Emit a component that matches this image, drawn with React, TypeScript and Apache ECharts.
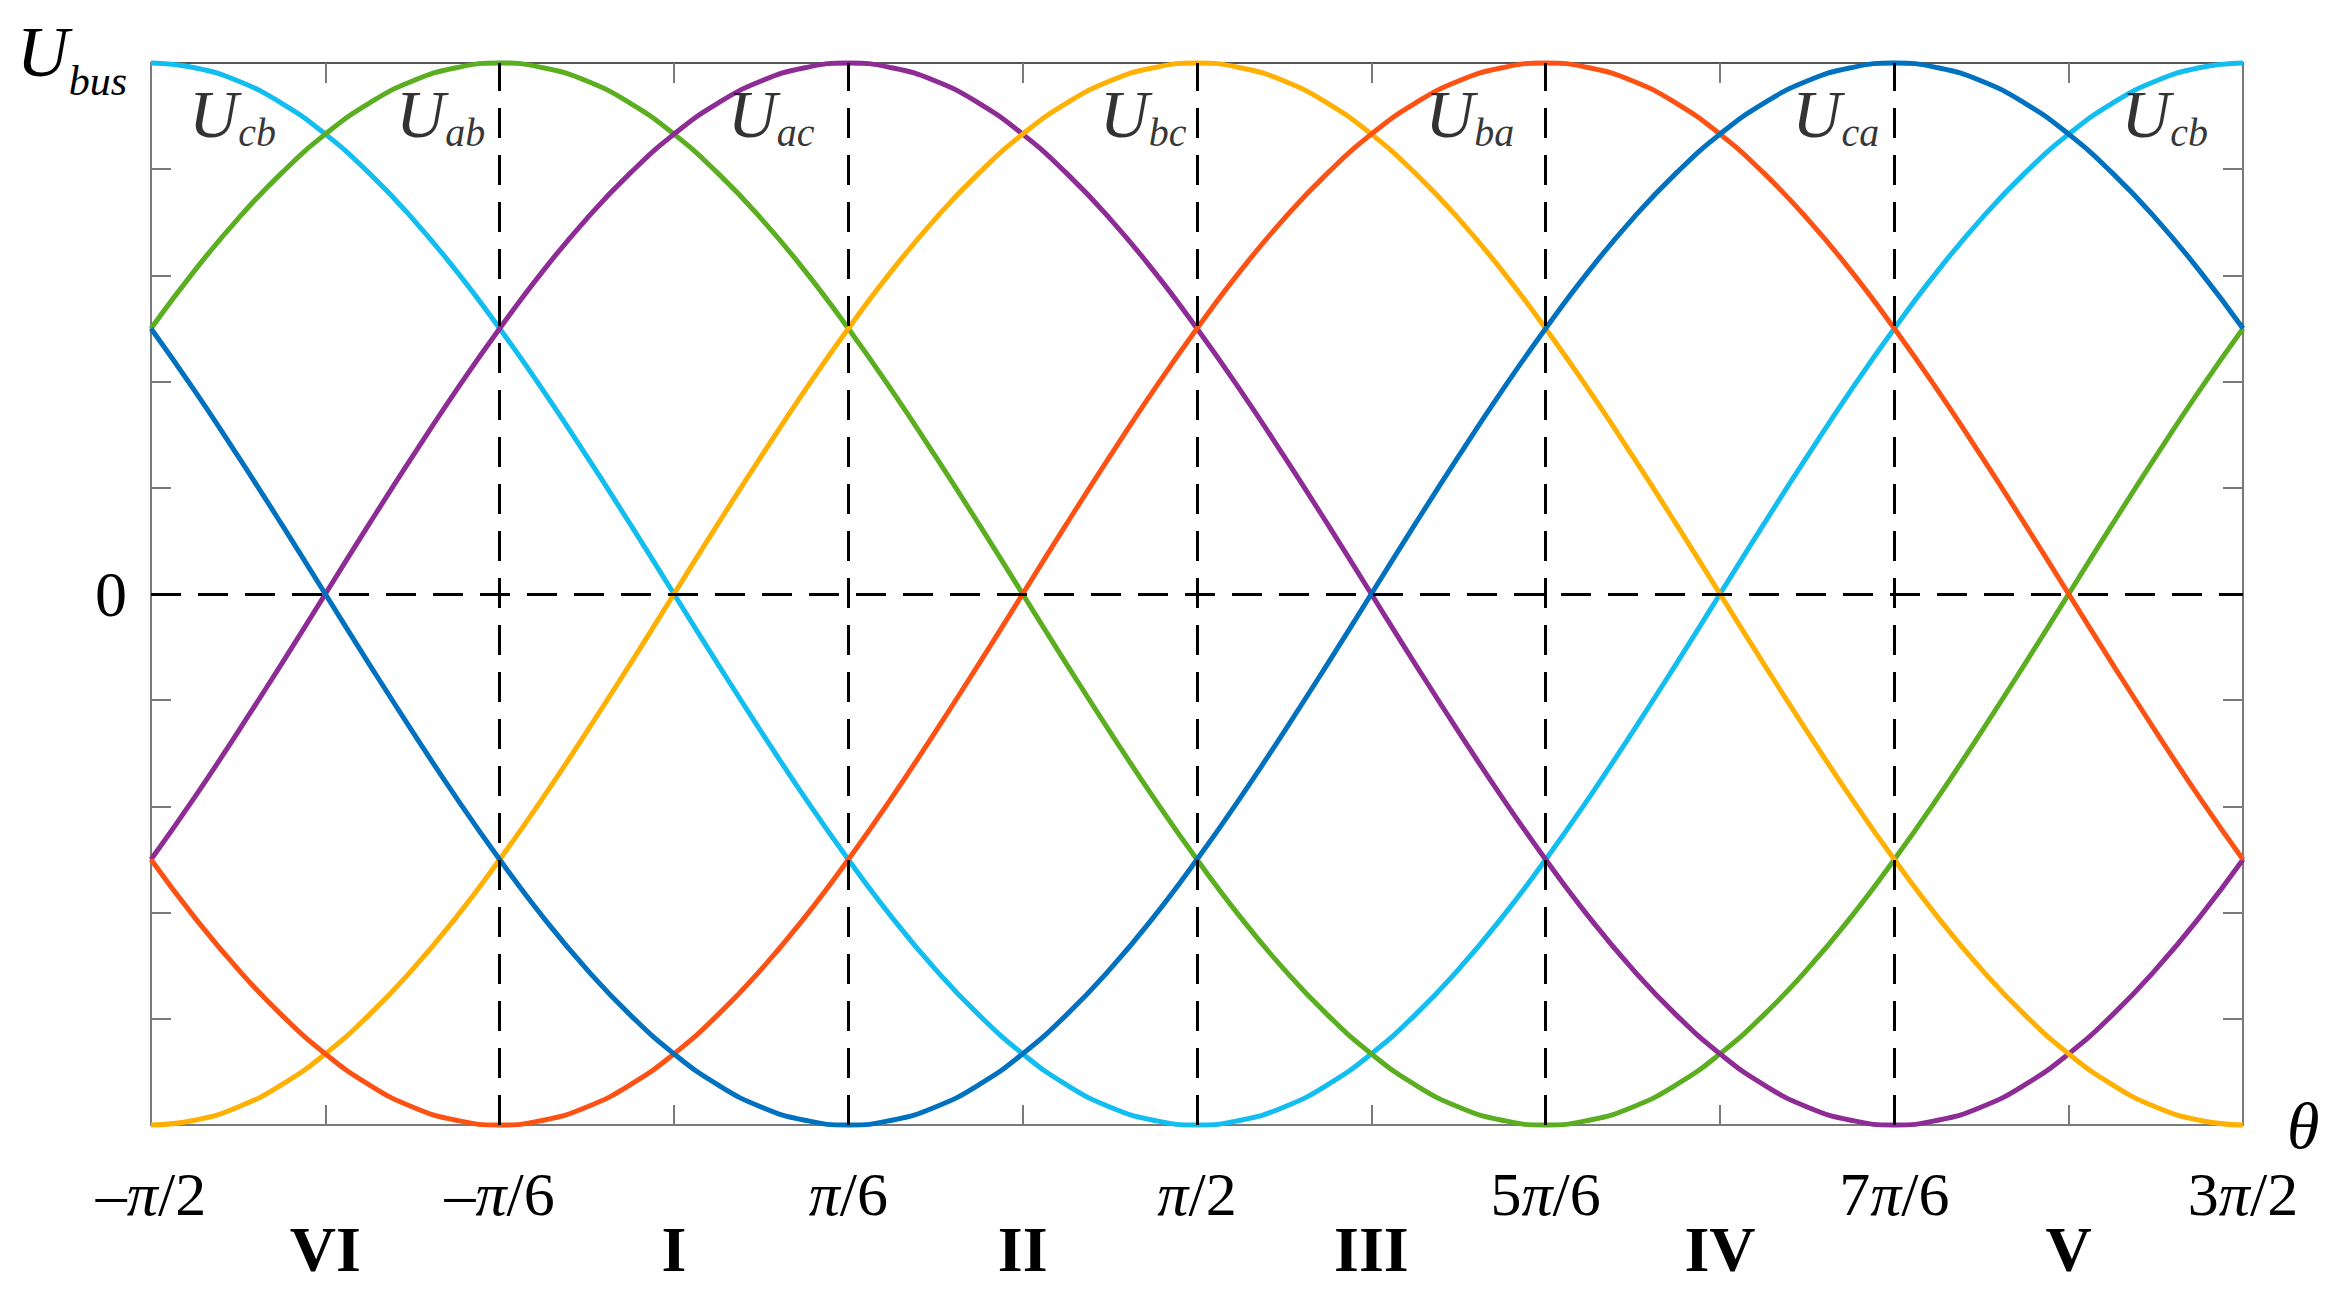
import React, { useEffect, useRef } from 'react';
import * as echarts from 'echarts';

// θ sampled every π/24, in degrees
const THETA = [-90, -82.5, -75, -67.5, -60, -52.5, -45, -37.5, -30, -22.5, -15, -7.5, 0, 7.5, 15, 22.5, 30, 37.5, 45, 52.5, 60, 67.5, 75, 82.5, 90, 97.5, 105, 112.5, 120, 127.5, 135, 142.5, 150, 157.5, 165, 172.5, 180, 187.5, 195, 202.5, 210, 217.5, 225, 232.5, 240, 247.5, 255, 262.5, 270];

// values in units of Ubus
const U_CB = [1, 0.991, 0.966, 0.924, 0.866, 0.793, 0.707, 0.609, 0.5, 0.383, 0.259, 0.131, 0, -0.131, -0.259, -0.383, -0.5, -0.609, -0.707, -0.793, -0.866, -0.924, -0.966, -0.991, -1, -0.991, -0.966, -0.924, -0.866, -0.793, -0.707, -0.609, -0.5, -0.383, -0.259, -0.131, 0, 0.131, 0.259, 0.383, 0.5, 0.609, 0.707, 0.793, 0.866, 0.924, 0.966, 0.991, 1];
const U_AB = [0.5, 0.609, 0.707, 0.793, 0.866, 0.924, 0.966, 0.991, 1, 0.991, 0.966, 0.924, 0.866, 0.793, 0.707, 0.609, 0.5, 0.383, 0.259, 0.131, 0, -0.131, -0.259, -0.383, -0.5, -0.609, -0.707, -0.793, -0.866, -0.924, -0.966, -0.991, -1, -0.991, -0.966, -0.924, -0.866, -0.793, -0.707, -0.609, -0.5, -0.383, -0.259, -0.131, 0, 0.131, 0.259, 0.383, 0.5];
const U_AC = [-0.5, -0.383, -0.259, -0.131, 0, 0.131, 0.259, 0.383, 0.5, 0.609, 0.707, 0.793, 0.866, 0.924, 0.966, 0.991, 1, 0.991, 0.966, 0.924, 0.866, 0.793, 0.707, 0.609, 0.5, 0.383, 0.259, 0.131, 0, -0.131, -0.259, -0.383, -0.5, -0.609, -0.707, -0.793, -0.866, -0.924, -0.966, -0.991, -1, -0.991, -0.966, -0.924, -0.866, -0.793, -0.707, -0.609, -0.5];
const U_BC = [-1, -0.991, -0.966, -0.924, -0.866, -0.793, -0.707, -0.609, -0.5, -0.383, -0.259, -0.131, 0, 0.131, 0.259, 0.383, 0.5, 0.609, 0.707, 0.793, 0.866, 0.924, 0.966, 0.991, 1, 0.991, 0.966, 0.924, 0.866, 0.793, 0.707, 0.609, 0.5, 0.383, 0.259, 0.131, 0, -0.131, -0.259, -0.383, -0.5, -0.609, -0.707, -0.793, -0.866, -0.924, -0.966, -0.991, -1];
const U_BA = [-0.5, -0.609, -0.707, -0.793, -0.866, -0.924, -0.966, -0.991, -1, -0.991, -0.966, -0.924, -0.866, -0.793, -0.707, -0.609, -0.5, -0.383, -0.259, -0.131, 0, 0.131, 0.259, 0.383, 0.5, 0.609, 0.707, 0.793, 0.866, 0.924, 0.966, 0.991, 1, 0.991, 0.966, 0.924, 0.866, 0.793, 0.707, 0.609, 0.5, 0.383, 0.259, 0.131, 0, -0.131, -0.259, -0.383, -0.5];
const U_CA = [0.5, 0.383, 0.259, 0.131, 0, -0.131, -0.259, -0.383, -0.5, -0.609, -0.707, -0.793, -0.866, -0.924, -0.966, -0.991, -1, -0.991, -0.966, -0.924, -0.866, -0.793, -0.707, -0.609, -0.5, -0.383, -0.259, -0.131, 0, 0.131, 0.259, 0.383, 0.5, 0.609, 0.707, 0.793, 0.866, 0.924, 0.966, 0.991, 1, 0.991, 0.966, 0.924, 0.866, 0.793, 0.707, 0.609, 0.5];

const SERIES_NAMES = ['Ucb', 'Uab', 'Uac', 'Ubc', 'Uba', 'Uca'];
const SERIES_VALUES = [U_CB, U_AB, U_AC, U_BC, U_BA, U_CA];
const SERIES_COLORS = ['#12bdf0', '#5aae20', '#8e2c96', '#ffb000', '#fd5213', '#0071bf'];

const X_TICK_VALUES = [-90, -30, 30, 90, 150, 210, 270];
const X_TICK_LABELS = ['–π/2', '–π/6', 'π/6', 'π/2', '5π/6', '7π/6', '3π/2'];
const SECTOR_CENTERS = [-60, 0, 60, 120, 180, 240];
const SECTOR_LABELS = ['VI', 'I', 'II', 'III', 'IV', 'V'];
const DASHED_X = [-30, 30, 90, 150, 210];

// curve name annotations: subscript and the θ (degrees) of the label's right edge
const ANNOT_SUBS = ['cb', 'ab', 'ac', 'bc', 'ba', 'ca', 'cb'];
const ANNOT_X = [-68.5, -32.5, 24.2, 88.2, 144.6, 207.4, 264];
const ANNOT_Y = 0.9;

const SERIF = 'Liberation Serif';

function near(a: number, b: number) {
  return Math.abs(a - b) < 1e-6;
}

function piLabel(s: string) {
  return s
    .split('π')
    .map((part) => (part ? `{n|${part}}` : ''))
    .join('{p|π}');
}

export default function App() {
  const ref = useRef<HTMLDivElement>(null);

  useEffect(() => {
    document.body.style.margin = '0';
    if (!ref.current) return;
    const chart = echarts.init(ref.current, undefined, { renderer: 'svg' });

    const axisGray = '#7a7a7a';
    const xBase = {
      type: 'value' as const,
      min: -90,
      max: 270,
      interval: 30,
      splitLine: { show: false },
    };

    const lineSeries = SERIES_NAMES.map((name, i) => ({
      name,
      type: 'line' as const,
      data: THETA.map((t, k) => [t, SERIES_VALUES[i][k]]),
      smooth: true,
      showSymbol: false,
      symbol: 'none',
      clip: false,
      lineStyle: { color: SERIES_COLORS[i], width: 5 },
      z: 3,
    }));

    const option: any = {
      animation: false,
      backgroundColor: '#ffffff',
      textStyle: { fontFamily: SERIF },
      grid: { left: 151, right: 97, top: 63, bottom: 174, containLabel: false },
      xAxis: [
        {
          ...xBase,
          position: 'bottom',
          name: 'θ',
          nameLocation: 'end',
          nameGap: 44,
          nameTextStyle: {
            fontFamily: SERIF,
            fontStyle: 'italic',
            fontSize: 66,
            color: '#000',
            padding: [0, 0, 32, 0],
          },
          axisLine: { show: true, onZero: false, lineStyle: { color: axisGray, width: 2 } },
          axisTick: { show: true, inside: true, length: 20, lineStyle: { color: axisGray, width: 2 } },
          axisLabel: {
            show: true,
            margin: 38,
            interval: 0,
            color: '#000',
            fontFamily: SERIF,
            fontSize: 62,
            lineHeight: 62,
            formatter: (v: number) => {
              const i = X_TICK_VALUES.findIndex((t) => near(t, v));
              return i >= 0 ? piLabel(X_TICK_LABELS[i]) : '';
            },
            rich: {
              n: { fontFamily: SERIF, fontSize: 62, color: '#000', lineHeight: 62 },
              p: { fontFamily: SERIF, fontStyle: 'italic', fontSize: 62, color: '#000', lineHeight: 62 },
            },
          },
        },
        {
          ...xBase,
          position: 'top',
          axisLine: { show: true, onZero: false, lineStyle: { color: '#555', width: 2 } },
          axisTick: { show: true, inside: true, length: 20, lineStyle: { color: axisGray, width: 2 } },
          axisLabel: { show: false },
        },
        {
          ...xBase,
          position: 'bottom',
          axisLine: { show: false, onZero: false },
          axisTick: { show: false },
          axisLabel: {
            show: true,
            margin: 92,
            interval: 0,
            color: '#000',
            fontFamily: SERIF,
            fontWeight: 'bold',
            fontSize: 64,
            lineHeight: 64,
            formatter: (v: number) => {
              const i = SECTOR_CENTERS.findIndex((t) => near(t, v));
              return i >= 0 ? SECTOR_LABELS[i] : '';
            },
          },
        },
      ],
      yAxis: [
        {
          type: 'value',
          min: -1,
          max: 1,
          interval: 0.2,
          position: 'left',
          splitLine: { show: false },
          axisLine: { show: true, onZero: false, lineStyle: { color: axisGray, width: 2 } },
          axisTick: { show: true, inside: true, length: 20, lineStyle: { color: axisGray, width: 2 } },
          axisLabel: {
            show: true,
            margin: 24,
            color: '#000',
            fontFamily: SERIF,
            formatter: (v: number) => {
              if (near(v, 1)) return '{u|U}{s|bus}';
              if (near(v, 0)) return '{z|0}';
              return '';
            },
            rich: {
              u: { fontFamily: SERIF, fontStyle: 'italic', fontSize: 72, color: '#000', verticalAlign: 'bottom', padding: [0, 0, 22, 0] },
              s: { fontFamily: SERIF, fontStyle: 'italic', fontSize: 42, color: '#000', verticalAlign: 'bottom', padding: [0, 0, 8, 0] },
              z: { fontFamily: SERIF, fontSize: 64, color: '#000' },
            },
          },
        },
        {
          type: 'value',
          min: -1,
          max: 1,
          interval: 0.2,
          position: 'right',
          splitLine: { show: false },
          axisLine: { show: true, onZero: false, lineStyle: { color: axisGray, width: 2 } },
          axisTick: { show: true, inside: true, length: 20, lineStyle: { color: axisGray, width: 2 } },
          axisLabel: { show: false },
        },
      ],
      series: [
        ...lineSeries,
        {
          name: 'guides',
          type: 'line',
          data: [],
          silent: true,
          markLine: {
            silent: true,
            symbol: ['none', 'none'],
            label: { show: false },
            lineStyle: { color: '#000', type: [30, 17], width: 3 },
            data: [...DASHED_X.map((x) => ({ xAxis: x })), { yAxis: 0 }],
          },
          z: 2,
        },
        {
          name: 'labels',
          type: 'scatter',
          symbolSize: 0,
          silent: true,
          data: ANNOT_X.map((x, i) => ({
            value: [x, ANNOT_Y],
            label: { formatter: `{u|U}{s|${ANNOT_SUBS[i]}}` },
          })),
          label: {
            show: true,
            position: 'left',
            distance: 0,
            fontFamily: SERIF,
            rich: {
              u: { fontFamily: SERIF, fontStyle: 'italic', fontSize: 68, color: '#000', verticalAlign: 'bottom', padding: [0, 0, 4, 0] },
              s: { fontFamily: SERIF, fontStyle: 'italic', fontSize: 40, color: '#000', verticalAlign: 'bottom' },
            },
          },
          z: 5,
        },
      ],
    };

    chart.setOption(option);
    return () => chart.dispose();
  }, []);

  return <div ref={ref} style={{ position: 'fixed', left: 0, top: 0, width: 2340, height: 1299 }} />;
}
